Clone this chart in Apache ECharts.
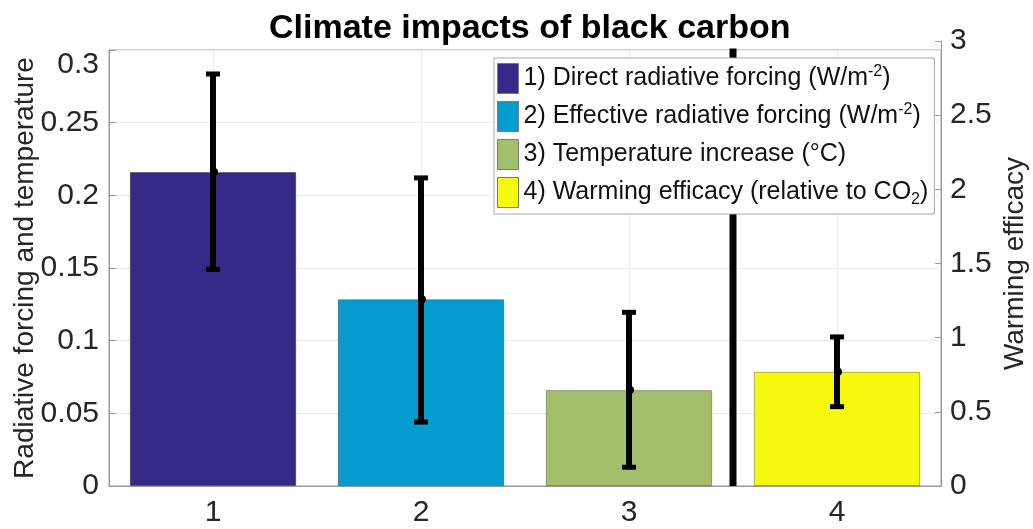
<!DOCTYPE html>
<html>
<head>
<meta charset="utf-8">
<title>Climate impacts of black carbon</title>
<script src="https://cdn.jsdelivr.net/npm/echarts@6/dist/echarts.min.js"></script>
<style>
  html, body { margin: 0; padding: 0; background: #fff; }
  #chart { width: 1033px; height: 529px; }
</style>
</head>
<body>
<div id="chart"></div>
<script>
// categories on the x axis
var categories = ['1', '2', '3', '4'];
var seriesNames = [
    '1) Direct radiative forcing (W/m-2)',
    '2) Effective radiative forcing (W/m-2)',
    '3) Temperature increase (°C)',
    '4) Warming efficacy (relative to CO2)'
];
var legendLabels = [
    '1) Direct radiative forcing (W/m{sup|-2})',
    '2) Effective radiative forcing (W/m{sup|-2})',
    '3) Temperature increase (°C)',
    '4) Warming efficacy (relative to CO{sub|2})'
];
// bar heights (bars 1-3 on left axis, bar 4 on right axis)
var barValues = [0.216, 0.1285, 0.066, 0.77];
var errLow = [0.149, 0.044, 0.0129, 0.535];
var errHigh = [0.2835, 0.212, 0.1195, 1.005];
var barColors = ['#352A87', '#079CCF', '#A5BE6B', '#F5F90C'];
// thick black line between bar 3 and 4 (category position, right axis top)
var dividerPos = [3.5];
var dividerTop = [2.95];

var chart = echarts.init(document.getElementById('chart'));
var font = 'Liberation Sans, Arial, sans-serif';
var axisGray = '#9a9a9a';
var textCol = '#262626';

function errorBar(params, api) {
    var i = api.value(0);
    var lo = api.coord([i, api.value(1)]);
    var hi = api.coord([i, api.value(2)]);
    var mid = api.coord([i, api.value(3)]);
    var cap = 7;
    return {
        type: 'group',
        children: [
            { type: 'line', shape: { x1: lo[0], y1: lo[1], x2: hi[0], y2: hi[1] }, style: { stroke: '#000', lineWidth: 6 } },
            { type: 'line', shape: { x1: hi[0] - cap, y1: hi[1], x2: hi[0] + cap, y2: hi[1] }, style: { stroke: '#000', lineWidth: 5 } },
            { type: 'line', shape: { x1: lo[0] - cap, y1: lo[1], x2: lo[0] + cap, y2: lo[1] }, style: { stroke: '#000', lineWidth: 5 } },
            { type: 'circle', shape: { cx: mid[0] + 1, cy: mid[1], r: 4 }, style: { fill: '#000' } }
        ]
    };
}

function divider(params, api) {
    var pos = api.value(0) - 1;
    var idx = Math.floor(pos);
    var frac = pos - idx;
    var bottom = api.coord([idx, 0]);
    var top = api.coord([idx, api.value(1)]);
    var bw = api.size([1, 0])[0];
    var x = bottom[0] + frac * bw;
    return {
        type: 'line',
        shape: { x1: x, y1: bottom[1], x2: x, y2: top[1] },
        style: { stroke: '#000', lineWidth: 7 }
    };
}

var barSeries = seriesNames.map(function (name, k) {
    return {
        name: name,
        type: 'bar',
        xAxisIndex: k === 3 ? 1 : 0,
        yAxisIndex: k === 3 ? 1 : 0,
        barWidth: '80%',
        barGap: '-100%',
        itemStyle: { color: barColors[k], borderColor: 'rgba(0,0,0,0.3)', borderWidth: 1 },
        data: categories.map(function (c, i) { return i === k ? barValues[i] : '-'; }),
        z: 2
    };
});

var leftErr = [], rightErr = [];
for (var i = 0; i < categories.length; i++) {
    var row = [i, errLow[i], errHigh[i], barValues[i]];
    if (i === 3) rightErr.push(row); else leftErr.push(row);
}

var option = {
    backgroundColor: '#fff',
    animation: false,
    textStyle: { fontFamily: font },
    title: {
        text: 'Climate impacts of black carbon',
        left: 264,
        top: 7,
        textStyle: { fontFamily: font, fontSize: 34, fontWeight: 'bold', color: '#000' }
    },
    grid: [
        { left: 109, right: 92, top: 50, bottom: 43, outerBoundsMode: 'none', show: true, borderColor: axisGray, borderWidth: 1 },
        { left: 109, right: 92, top: 41, bottom: 43, outerBoundsMode: 'none' }
    ],
    legend: {
        orient: 'vertical',
        left: 494,
        top: 58,
        itemWidth: 21,
        itemHeight: 30,
        itemGap: 7,
        padding: [5, 6, 6, 3],
        borderColor: '#a8a8a8',
        borderWidth: 1,
        backgroundColor: '#fff',
        icon: 'rect',
        itemStyle: { borderColor: '#7a7a7a', borderWidth: 1 },
        data: seriesNames,
        formatter: function (name) {
            return legendLabels[seriesNames.indexOf(name)];
        },
        textStyle: {
            fontFamily: font,
            fontSize: 25,
            color: '#111',
            lineHeight: 30,
            rich: {
                sup: { fontSize: 16, fontFamily: font, color: '#111', verticalAlign: 'top', lineHeight: 30, padding: [0, 0, 12, 0] },
                sub: { fontSize: 16, fontFamily: font, color: '#111', verticalAlign: 'bottom', lineHeight: 30, padding: [10, 0, 0, 0] }
            }
        },
        z: 10
    },
    xAxis: [
        {
            type: 'category',
            gridIndex: 0,
            data: categories,
            axisLine: { lineStyle: { color: axisGray } },
            axisTick: { show: false },
            axisLabel: { fontSize: 30, color: textCol, margin: 12, fontFamily: font },
            splitLine: { show: true, alignWithLabel: true, lineStyle: { color: '#ececec' } }
        },
        {
            type: 'category',
            gridIndex: 1,
            data: categories,
            show: false
        }
    ],
    yAxis: [
        {
            type: 'value',
            gridIndex: 0,
            min: 0,
            max: 0.3,
            interval: 0.05,
            name: 'Radiative forcing and temperature',
            nameLocation: 'middle',
            nameGap: 70,
            nameMoveOverlap: false,
            nameTextStyle: { fontSize: 28, color: textCol, fontFamily: font },
            axisLine: { show: true, lineStyle: { color: axisGray } },
            axisTick: { show: true, inside: true, length: 7, lineStyle: { color: axisGray } },
            axisLabel: { fontSize: 30, color: textCol, margin: 10, fontFamily: font, verticalAlignMaxLabel: 'top' },
            splitLine: { show: true, lineStyle: { color: '#ececec' } }
        },
        {
            type: 'value',
            gridIndex: 1,
            position: 'right',
            min: 0,
            max: 3,
            interval: 0.5,
            name: 'Warming efficacy',
            nameLocation: 'middle',
            nameRotate: 90,
            nameGap: 60,
            nameMoveOverlap: false,
            nameTextStyle: { fontSize: 28, color: textCol, fontFamily: font },
            axisLine: { show: true, lineStyle: { color: axisGray } },
            axisTick: { show: true, inside: true, length: 6, lineStyle: { color: axisGray } },
            axisLabel: { fontSize: 30, color: textCol, margin: 9, fontFamily: font },
            splitLine: { show: false }
        }
    ],
    series: barSeries.concat([
        {
            type: 'custom',
            xAxisIndex: 0,
            yAxisIndex: 0,
            renderItem: errorBar,
            encode: { x: 0, y: [1, 2] },
            data: leftErr,
            z: 5
        },
        {
            type: 'custom',
            xAxisIndex: 1,
            yAxisIndex: 1,
            renderItem: errorBar,
            encode: { x: 0, y: [1, 2] },
            data: rightErr,
            z: 5
        },
        {
            type: 'custom',
            xAxisIndex: 1,
            yAxisIndex: 1,
            renderItem: divider,
            encode: { x: 0, y: 1 },
            data: dividerPos.map(function (p, j) { return [p, dividerTop[j]]; }),
            z: 4
        }
    ])
};

chart.setOption(option);
</script>
</body>
</html>
